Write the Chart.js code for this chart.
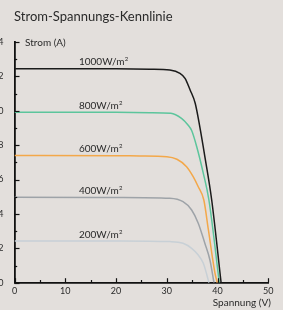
<!DOCTYPE html>
<html><head><meta charset="utf-8">
<script src="https://cdn.jsdelivr.net/npm/chart.js@4/dist/chart.umd.min.js"></script>
<style>
html,body{margin:0;padding:0;background:#e3dfdc;overflow:hidden;width:283px;height:310px;}
#wrap{position:absolute;left:-12px;top:0;width:295px;height:310px;}
</style></head><body>
<div id="wrap"><canvas id="c"></canvas></div>
<script>
const title = 'Strom-Spannungs-Kennlinie';
const yTitle = 'Strom (A)';
const xTitle = 'Spannung (V)';
const seriesLabels = ['1000W/m²','800W/m²','600W/m²','400W/m²','200W/m²'];
const seriesColors = ['#1b1b1b','#5cc59c','#f3a84a','#9ea3a8','#c8d0d6'];
const xTicks = [0,10,20,30,40,50];
const yTicks = [0,2,4,6,8,10,12,14];
// voltage (V) / current (A) samples
const v1000 = [0, 20, 26.7, 30.6, 32.6, 33.6, 34.6, 35.6, 36.5, 37.5, 38.85, 40.7];
const i1000 = [12.45, 12.44, 12.42, 12.37, 12.18, 11.89, 11.21, 10.44, 9.08, 7.34, 4.81, 0];
const v800 = [0, 20, 26.7, 30.8, 32.9, 34.1, 34.9, 35.9, 37.2, 38.3, 40.35];
const i800 = [9.92, 9.91, 9.89, 9.86, 9.56, 9.2, 8.85, 7.91, 6.36, 4.81, 0];
const v600 = [0, 20, 24.7, 30.0, 32.0, 33.9, 35.2, 36.2, 37.3, 38.2, 39.5, 39.95];
const i600 = [7.40, 7.39, 7.37, 7.33, 7.18, 6.75, 6.17, 5.58, 4.81, 3.07, 0.55, 0];
const v400 = [0, 20.8, 30.6, 33.2, 34.9, 36.2, 37.5, 38.5, 39.3];
const i400 = [4.97, 4.96, 4.91, 4.71, 4.23, 3.46, 2.29, 1.32, 0];
const v200 = [0, 20.8, 30.6, 33.2, 34.9, 36.2, 37.2, 37.9, 38.3];
const i200 = [2.43, 2.43, 2.39, 2.29, 2.0, 1.61, 1.13, 0.45, 0];
const labelV = 12.7;

const vs = [v1000, v800, v600, v400, v200];
const is = [i1000, i800, i600, i400, i200];
const datasets = vs.map((v, k) => ({
  label: seriesLabels[k],
  data: v.map((x, j) => ({x: x, y: is[k][j]})),
  borderColor: seriesColors[k],
  borderWidth: 1.5,
  pointRadius: 0,
  cubicInterpolationMode: 'monotone',
  fill: false
}));

const FONT = 'Lato, "Open Sans", sans-serif';
const deco = {
  id: 'deco',
  afterDraw(chart) {
    const ctx = chart.ctx, xs = chart.scales.x, ys = chart.scales.y, a = chart.chartArea;
    ctx.save();
    ctx.strokeStyle = '#111'; ctx.lineWidth = 1.2;
    for (let v = 0; v <= 50; v += 5) {
      const px = Math.round(xs.getPixelForValue(v)) + 0.5;
      const len = v % 10 === 0 ? 4.5 : 2.7;
      ctx.beginPath(); ctx.moveTo(px, a.bottom); ctx.lineTo(px, a.bottom - len); ctx.stroke();
    }
    for (let v = 0; v <= 14; v += 1) {
      const py = Math.round(ys.getPixelForValue(v)) + 0.5;
      const len = v % 2 === 0 ? 5 : 2.7;
      ctx.beginPath(); ctx.moveTo(a.left, py); ctx.lineTo(a.left + len, py); ctx.stroke();
    }
    ctx.fillStyle = '#2a2a2a';
    ctx.textBaseline = 'alphabetic';
    ctx.font = '13px ' + FONT; ctx.textAlign = 'left';
    ctx.fillText(title, a.left - 0.5, 20.5);
    ctx.font = '10px ' + FONT;
    ctx.fillText(yTitle, a.left + 10.5, ys.getPixelForValue(14) + 3.5);
    ctx.textAlign = 'right';
    ctx.fillText(xTitle, chart.width - 12, 306);
    ctx.textAlign = 'left';
    datasets.forEach((d, k) => {
      const y = ys.getPixelForValue(is[k][0]) - 3.2;
      const x = xs.getPixelForValue(labelV);
      ctx.fillText(seriesLabels[k].replace('²',''), x, y);
      const w = ctx.measureText(seriesLabels[k].replace('²','')).width;
      ctx.font = '6px ' + FONT;
      ctx.fillText('2', x + w + 0.3, y - 4);
      ctx.font = '10px ' + FONT;
    });
    ctx.restore();
  }
};

new Chart(document.getElementById('c'), {
  type: 'line',
  data: { datasets },
  options: {
    responsive: true, maintainAspectRatio: false, animation: false,
    layout: { padding: { top: 42, right: 14.7, bottom: 0, left: 0 } },
    plugins: { legend: { display: false }, tooltip: { enabled: false }, title: { display: false } },
    scales: {
      x: {
        type: 'linear', min: 0, max: 50,
        afterBuildTicks: s => { s.ticks = xTicks.map(v => ({value: v})); },
        afterFit: s => { s.height = 27.3; },
        grid: { display: false, drawTicks: false, tickLength: 0 },
        border: { display: true, color: '#111', width: 1.8 },
        ticks: { padding: 3, color: '#2a2a2a', font: { family: FONT, size: 9 }, maxRotation: 0 }
      },
      y: {
        type: 'linear', min: 0, max: 14,
        afterBuildTicks: s => { s.ticks = yTicks.map(v => ({value: v})); },
        afterFit: s => { s.width = 26.5; },
        grid: { display: false, drawTicks: false, tickLength: 0 },
        border: { display: true, color: '#111', width: 1.8 },
        ticks: { padding: 11, color: '#2a2a2a', font: { family: FONT, size: 9 } }
      }
    }
  },
  plugins: [deco]
});
</script>
</body></html>
